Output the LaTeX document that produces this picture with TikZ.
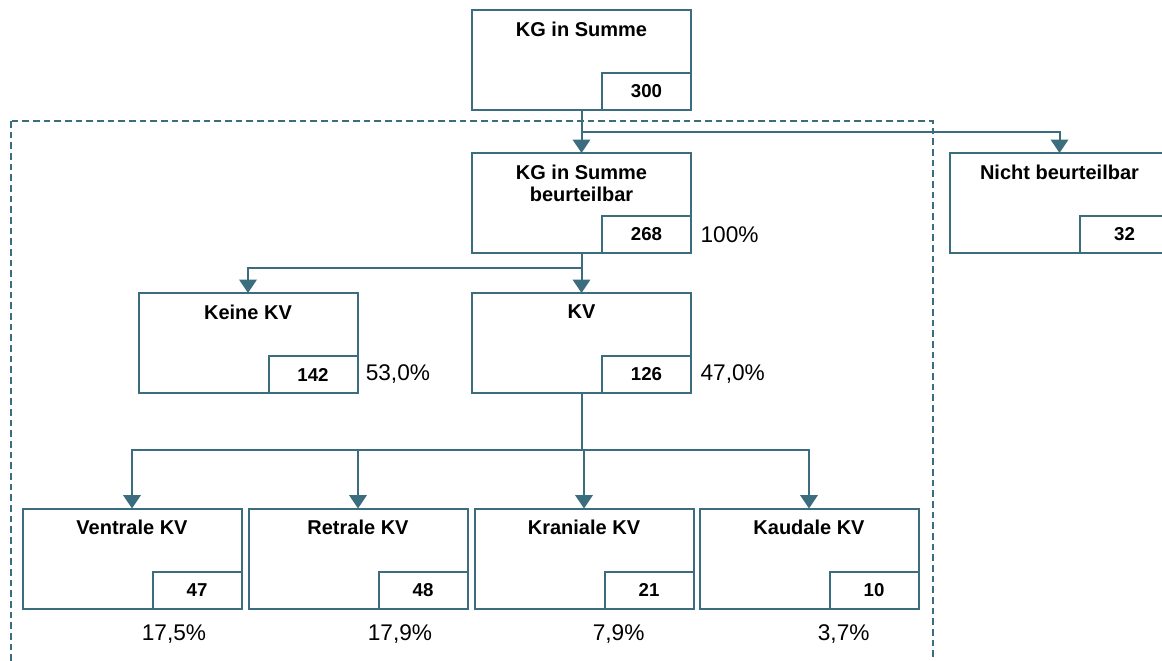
\documentclass[tikz,border=0pt]{standalone}
\usepackage{fontspec}
\setmainfont{Liberation Sans}
\usetikzlibrary{positioning,arrows.meta,calc}
\definecolor{tealblue}{HTML}{3B6D7E}

\begin{document}
\begin{tikzpicture}[x=0.75pt,y=-0.75pt,
      box/.style={rectangle, draw=tealblue, line width=1.5pt, outer sep=0pt, minimum width=164.25pt, minimum height=75pt},
      count/.style={rectangle, draw=tealblue, line width=1.5pt, outer sep=0pt, anchor=south east, minimum width=66.75pt, minimum height=27.75pt, font=\bfseries\fontsize{14}{16}\selectfont},
      title/.style={anchor=north, align=center, inner sep=0pt, font=\bfseries\fontsize{15}{16.5}\selectfont},
      pct/.style={inner sep=0pt, font=\fontsize{17}{20}\selectfont},
      conn/.style={draw=tealblue, line width=1.5pt, -{Triangle[width=13pt,length=10pt]}}
      ]
      \useasboundingbox (0,0) rectangle (1162,660);
      \clip (0,0) rectangle (1162,660);
      \draw[tealblue, line width=1.4pt, dash pattern=on 5pt off 3pt] (11,121) rectangle (933,680);
      % top level
      \node[box] (SUM) at (581.5,60) {};
      \node[title] (SUMt) at ([yshift=-8.5pt]SUM.north) {KG in Summe};
      \node[count] (SUMn) at (SUM.south east) {300};
      % second level
      \node[box] (BEU) at (581.5,203) {};
      \node[title] (BEUt) at ([yshift=-8.5pt]BEU.north) {KG in Summe\\beurteilbar};
      \node[count] (BEUn) at (BEU.south east) {268};
      \node[pct, right=7pt of BEUn] (BEUp) {100\%};
      \node[box] (NIB) at (1059.5,203) {};
      \node[title] (NIBt) at ([yshift=-8.5pt]NIB.north) {Nicht beurteilbar};
      \node[count] (NIBn) at (NIB.south east) {32};
      % third level
      \node[box] (KEI) at (248,343) {};
      \node[title] (KEIt) at ([yshift=-8.5pt]KEI.north) {Keine KV};
      \node[count] (KEIn) at (KEI.south east) {142};
      \node[pct, right=6pt of KEIn] (KEIp) {53,0\%};
      \node[box] (KV) at (581.5,343) {};
      \node[title] (KVt) at ([yshift=-8.5pt]KV.north) {KV};
      \node[count] (KVn) at (KV.south east) {126};
      \node[pct, right=7pt of KVn] (KVp) {47,0\%};
      % fourth level
      \node[box] (VEN) at (132,558.5) {};
      \node[title] (VENt) at ([yshift=-8.5pt]VEN.north) {Ventrale KV};
      \node[count] (VENn) at (VEN.south east) {47};
      \node[pct, below=12pt of VEN, xshift=31.5pt] (VENp) {17,5\%};
      \node[box] (RET) at (358,558.5) {};
      \node[title] (RETt) at ([yshift=-8.5pt]RET.north) {Retrale KV};
      \node[count] (RETn) at (RET.south east) {48};
      \node[pct, below=12pt of RET, xshift=31.5pt] (RETp) {17,9\%};
      \node[box] (KRA) at (584,558.5) {};
      \node[title] (KRAt) at ([yshift=-8.5pt]KRA.north) {Kraniale KV};
      \node[count] (KRAn) at (KRA.south east) {21};
      \node[pct, below=12pt of KRA, xshift=26pt] (KRAp) {7,9\%};
      \node[box] (KAU) at (809,558.5) {};
      \node[title] (KAUt) at ([yshift=-8.5pt]KAU.north) {Kaudale KV};
      \node[count] (KAUn) at (KAU.south east) {10};
      \node[pct, below=12pt of KAU, xshift=26pt] (KAUp) {3,7\%};
      % connectors
      \draw[conn] (SUM.south) -- (BEU.north);
      \draw[conn] (SUM.south) -- ++(0,22) -| (NIB.north);
      \draw[conn] (BEU.south) -- (KV.north);
      \draw[conn] (BEU.south) -- ++(0,15) -| (KEI.north);
      \draw[conn] (KV.south) -- ++(0,57) -| (VEN.north);
      \draw[conn] (KV.south) -- ++(0,57) -| (RET.north);
      \draw[conn] (KV.south) -- ++(0,57) -| (KRA.north);
      \draw[conn] (KV.south) -- ++(0,57) -| (KAU.north);
\end{tikzpicture}
\end{document}
